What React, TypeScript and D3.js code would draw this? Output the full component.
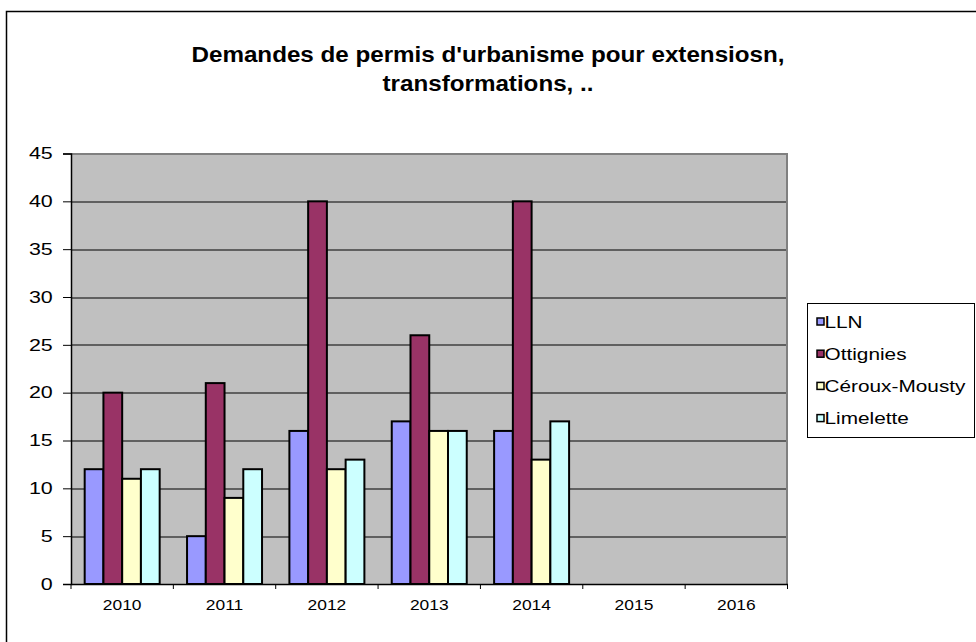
import React, { useRef, useEffect } from "react";
import * as d3 from "d3";

const years = ["2010", "2011", "2012", "2013", "2014", "2015", "2016"];
const seriesNames = ["LLN", "Ottignies", "Céroux-Mousty", "Limelette"];
const seriesColors = ["#9999FF", "#993366", "#FFFFCC", "#CCFFFF"];
const llnValues = [12, 5, 16, 17, 16];
const ottigniesValues = [20, 21, 40, 26, 40];
const cerouxValues = [11, 9, 12, 16, 13];
const limeletteValues = [12, 12, 13, 16, 17];
const yTicks = [0, 5, 10, 15, 20, 25, 30, 35, 40, 45];
const titleLines = ["Demandes de permis d'urbanisme pour extensiosn,", "transformations, .."];

const FONT = "Arial, 'Liberation Sans', sans-serif";

function App() {
  const ref = useRef(null);

  useEffect(() => {
    const svg = d3.select(ref.current);
    svg.selectAll("*").remove();

    const width = 976;
    const height = 642;
    const margin = { top: 153.5, right: 188.5, bottom: 58, left: 71 };
    const innerWidth = width - margin.left - margin.right;
    const innerHeight = height - margin.top - margin.bottom;

    const allSeries = [llnValues, ottigniesValues, cerouxValues, limeletteValues];

    // chart border
    svg.append("rect")
      .attr("x", 6.5).attr("y", 11.5)
      .attr("width", 1000).attr("height", 700)
      .attr("fill", "white").attr("stroke", "#000").attr("stroke-width", 1.5);

    // title (the original picture is stretched horizontally)
    svg.append("g").selectAll("text")
      .data(titleLines).enter().append("text")
      .attr("transform", (d, i) => `translate(488,${62 + i * 29}) scale(1.1,1)`)
      .attr("text-anchor", "middle")
      .attr("font-family", FONT)
      .attr("font-weight", "bold")
      .attr("font-size", 22)
      .text((d) => d);

    const x = d3.scaleBand().domain(years).range([0, innerWidth]);
    const x1 = d3.scaleBand().domain(seriesNames).range([0, x.bandwidth()]).paddingOuter(0.73).paddingInner(0);
    const y = d3.scaleLinear().domain([0, 45]).range([innerHeight, 0]);

    const g = svg.append("g").attr("transform", `translate(${margin.left},${margin.top})`);

    g.append("rect")
      .attr("width", innerWidth).attr("height", innerHeight)
      .attr("fill", "#C0C0C0");

    // gridlines
    g.append("g").selectAll("line")
      .data(yTicks.filter((t) => t > 0 && t < 45)).enter().append("line")
      .attr("x1", 0).attr("x2", innerWidth)
      .attr("y1", (d) => Math.round(y(d)) + 0.5).attr("y2", (d) => Math.round(y(d)) + 0.5)
      .attr("stroke", "#000").attr("stroke-width", 1);

    // top & right border of plot area
    g.append("path")
      .attr("d", `M0,0.5H${innerWidth - 0.5}V${innerHeight}`)
      .attr("fill", "none").attr("stroke", "#808080").attr("stroke-width", 2);

    // bars
    allSeries.forEach((vals, si) => {
      g.append("g").selectAll("rect")
        .data(vals).enter().append("rect")
        .attr("x", (d, i) => x(years[i]) + x1(seriesNames[si]))
        .attr("y", (d) => y(d))
        .attr("width", x1.bandwidth())
        .attr("height", (d) => innerHeight - y(d))
        .attr("fill", seriesColors[si])
        .attr("stroke", "#000")
        .attr("stroke-width", 2);
    });

    // y axis
    const yAxis = d3.axisLeft(y).tickValues(yTicks).tickSize(8).tickPadding(6);
    const yAxisG = g.append("g").call(yAxis);
    yAxisG.select(".domain").attr("stroke", "#000").attr("stroke-width", 1.5);
    yAxisG.selectAll("line").attr("stroke", "#000");
    yAxisG.selectAll("text")
      .attr("font-family", FONT).attr("font-size", 16.5).attr("fill", "#000")
      .attr("transform", "scale(1.3,1)");

    // x axis
    const xAxis = d3.axisBottom(x).tickSize(0).tickPadding(15);
    const xAxisG = g.append("g").attr("transform", `translate(0,${innerHeight})`).call(xAxis);
    xAxisG.select(".domain").attr("stroke", "#000").attr("stroke-width", 1.5);
    xAxisG.selectAll("text")
      .attr("font-family", FONT).attr("font-size", 15).attr("fill", "#000")
      .attr("transform", "scale(1.16,1)");
    xAxisG.append("g").selectAll("line")
      .data(years.concat(["end"])).enter().append("line")
      .attr("x1", (d, i) => i * x.step()).attr("x2", (d, i) => i * x.step())
      .attr("y1", 0).attr("y2", 5)
      .attr("stroke", "#000");

    // legend
    const legend = svg.append("g").attr("transform", "translate(807,303)");
    legend.append("rect")
      .attr("x", 0.5).attr("y", 0.5).attr("width", 167).attr("height", 134)
      .attr("fill", "white").attr("stroke", "#000").attr("stroke-width", 1);
    const items = legend.selectAll("g.item")
      .data(seriesNames).enter().append("g")
      .attr("transform", (d, i) => `translate(10,${19 + i * 32.2})`);
    items.append("rect")
      .attr("x", 0).attr("y", -4).attr("width", 7).attr("height", 7)
      .attr("fill", (d, i) => seriesColors[i])
      .attr("stroke", "#000").attr("stroke-width", 1.5);
    items.append("text")
      .attr("transform", "translate(7.5,5.5) scale(1.3,1)")
      .attr("font-family", FONT).attr("font-size", 16)
      .text((d) => d);
  }, []);

  return (
    <svg ref={ref} width="976" height="642" style={{ position: "absolute", left: 0, top: 0 }}></svg>
  );
}

export default App;
